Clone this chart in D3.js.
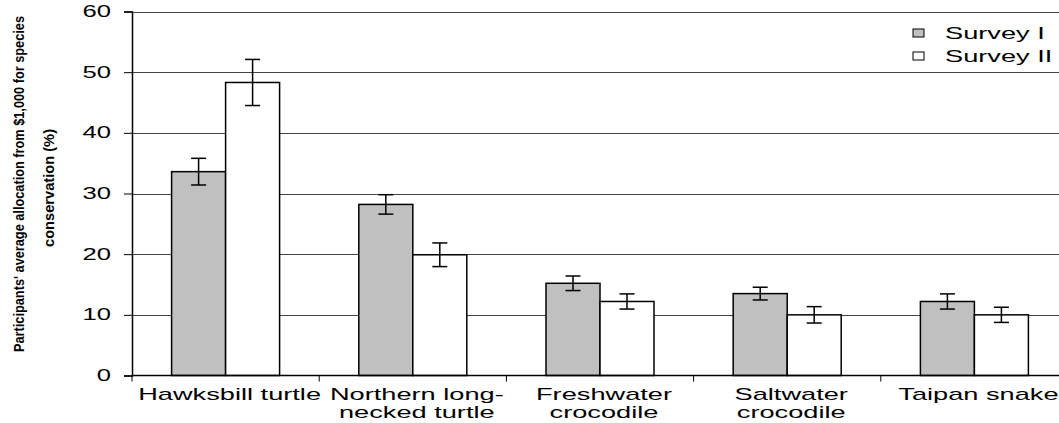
<!DOCTYPE html>
<html>
<head>
<meta charset="utf-8">
<script src="https://cdn.jsdelivr.net/npm/d3@7"></script>
<style>
  body { margin: 0; background: #fff; }
  text { font-family: "Liberation Sans", Arial, sans-serif; fill: #000; }
</style>
</head>
<body>
<div id="chart"></div>
<script>
// Chart data
const categories = [
    ["Hawksbill turtle"],
    ["Northern long-", "necked turtle"],
    ["Freshwater", "crocodile"],
    ["Saltwater", "crocodile"],
    ["Taipan snake"]
];
const seriesNames = ["Survey I", "Survey II"];
const surveyI = [33.6, 28.2, 15.2, 13.5, 12.2];
const surveyII = [48.3, 19.9, 12.2, 10.0, 10.0];
const errI = [2.2, 1.6, 1.2, 1.05, 1.25];
const errII = [3.8, 1.95, 1.25, 1.35, 1.25];
const yTicks = [0, 10, 20, 30, 40, 50, 60];
const yTitle = ["Participants' average allocation from $1,000 for species", "conservation (%)"];

const width = 1059;
const height = 423;
const margin = { top: 11.5, right: -9, bottom: 47.5, left: 132 };
const sx = 1.6; // wide text look of the original

const svg = d3.select('#chart').append('svg')
    .attr('width', width)
    .attr('height', height);

const x = d3.scaleBand()
    .domain(d3.range(categories.length))
    .range([margin.left, width - margin.right]);

const y = d3.scaleLinear()
    .domain([0, 60])
    .range([height - margin.bottom, margin.top]);

const barW = 54;
const fills = ['#c0c0c0', '#ffffff'];

// Gridlines
svg.append('g')
    .selectAll('line')
    .data(yTicks.slice(1))
    .enter()
    .append('line')
    .attr('x1', margin.left)
    .attr('x2', width)
    .attr('y1', d => Math.round(y(d)) + 0.5)
    .attr('y2', d => Math.round(y(d)) + 0.5)
    .style('stroke', '#444')
    .style('stroke-width', 1);

// Bars
const data = [];
categories.forEach((c, i) => {
    data.push({ cat: i, s: 0, v: surveyI[i], e: errI[i] });
    data.push({ cat: i, s: 1, v: surveyII[i], e: errII[i] });
});
const bx = d => x(d.cat) + x.bandwidth() / 2 + (d.s - 1) * barW;

svg.append('g')
    .selectAll('rect')
    .data(data)
    .enter()
    .append('rect')
    .attr('x', bx)
    .attr('y', d => y(d.v))
    .attr('width', barW)
    .attr('height', d => y(0) - y(d.v))
    .style('fill', d => fills[d.s])
    .style('stroke', '#000')
    .style('stroke-width', 1.5);

// Error bars
const eb = svg.append('g').selectAll('g')
    .data(data)
    .enter()
    .append('g')
    .style('stroke', '#000')
    .style('stroke-width', 1.5);
eb.append('line')
    .attr('x1', d => bx(d) + barW / 2)
    .attr('x2', d => bx(d) + barW / 2)
    .attr('y1', d => y(d.v + d.e))
    .attr('y2', d => y(d.v - d.e));
eb.append('line')
    .attr('x1', d => bx(d) + barW / 2 - 7.5)
    .attr('x2', d => bx(d) + barW / 2 + 7.5)
    .attr('y1', d => y(d.v + d.e))
    .attr('y2', d => y(d.v + d.e));
eb.append('line')
    .attr('x1', d => bx(d) + barW / 2 - 7.5)
    .attr('x2', d => bx(d) + barW / 2 + 7.5)
    .attr('y1', d => y(d.v - d.e))
    .attr('y2', d => y(d.v - d.e));

// Y axis
const yAxis = svg.append('g')
    .attr('transform', `translate(${margin.left},0)`)
    .call(d3.axisLeft(y).tickValues(yTicks).tickSize(8).tickPadding(14));
yAxis.select('.domain').attr('stroke', '#000').attr('stroke-width', 1.5);
yAxis.selectAll('.tick line').attr('stroke', '#000');
yAxis.selectAll('.tick text')
    .style('font-size', '16px')
    .style('font-family', '"Liberation Sans", Arial, sans-serif')
    .attr('x', -21 / sx)
    .attr('transform', `scale(${sx},1)`);

// X axis
const xAxis = svg.append('g')
    .attr('transform', `translate(0,${y(0)})`);
xAxis.append('line')
    .attr('x1', margin.left)
    .attr('x2', width)
    .style('stroke', '#000')
    .style('stroke-width', 1.5);
xAxis.selectAll('.xtick')
    .data(d3.range(categories.length + 1))
    .enter()
    .append('line')
    .attr('x1', d => margin.left + d * x.step())
    .attr('x2', d => margin.left + d * x.step())
    .attr('y1', 0)
    .attr('y2', 6)
    .style('stroke', '#000');

// Category labels
const labels = svg.append('g')
    .selectAll('text')
    .data(categories)
    .enter()
    .append('text')
    .attr('text-anchor', 'middle')
    .attr('font-size', '17px')
    .attr('transform', (d, i) => `translate(${x(i) + x.bandwidth() / 2 + 4},400) scale(${sx},1)`);
labels.selectAll('tspan')
    .data(d => d)
    .enter()
    .append('tspan')
    .attr('x', 0)
    .attr('y', (d, j) => j * 18)
    .text(d => d);

// Y axis title (squeezed like the original)
svg.append('text')
    .attr('transform', 'translate(24,184) rotate(-90) scale(1,1.3)')
    .attr('text-anchor', 'middle')
    .attr('font-size', '11px')
    .attr('font-weight', 'bold')
    .attr('textLength', 336)
    .attr('lengthAdjust', 'spacingAndGlyphs')
    .text(yTitle[0]);
svg.append('text')
    .attr('transform', 'translate(54,188) rotate(-90) scale(1,1.2)')
    .attr('text-anchor', 'middle')
    .attr('font-size', '12px')
    .attr('font-weight', 'bold')
    .attr('textLength', 118)
    .attr('lengthAdjust', 'spacingAndGlyphs')
    .text(yTitle[1]);

// Legend
const legend = svg.append('g')
    .selectAll('g')
    .data(seriesNames)
    .enter()
    .append('g')
    .attr('transform', (d, i) => `translate(913,${33 + i * 23})`);
legend.append('rect')
    .attr('x', 0)
    .attr('y', -4)
    .attr('width', 11)
    .attr('height', 8)
    .style('fill', (d, i) => fills[i])
    .style('stroke', '#000')
    .style('stroke-width', 1);
legend.append('text')
    .attr('transform', `translate(32,6) scale(${sx},1)`)
    .attr('font-size', '17px')
    .text(d => d);
</script>
</body>
</html>
